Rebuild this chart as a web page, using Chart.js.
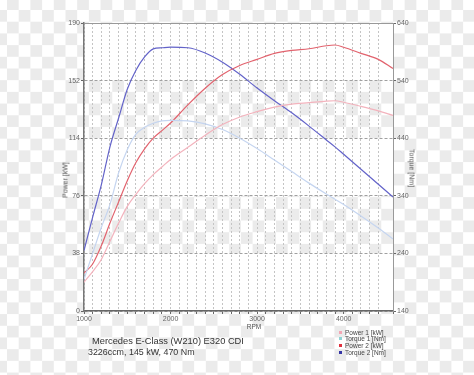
<!DOCTYPE html>
<html><head><meta charset="utf-8">
<script src="https://cdn.jsdelivr.net/npm/chart.js@4.4.1/dist/chart.umd.min.js"></script>
<style>
html,body{margin:0;padding:0;}
body{width:474px;height:375px;position:relative;overflow:hidden;background-color:#fff;
 background-image:conic-gradient(#ebebeb 25%, #fff 0 50%, #ebebeb 0 75%, #fff 0);
 background-size:23.4px 23.4px;background-position:7px 10px;
 font-family:"Liberation Sans",Arial,sans-serif;}
#wrap{position:absolute;left:0;top:0;width:474px;height:375px;}
.t{position:absolute;color:#555;white-space:nowrap;line-height:1;}
.rot{transform:translate(-50%,-50%) rotate(-90deg);}
.rot2{transform:translate(-50%,-50%) rotate(90deg);}
.cap{position:absolute;color:#333;white-space:nowrap;line-height:1;}
.lg{position:absolute;left:339px;font-size:6.5px;color:#444;white-space:nowrap;line-height:1;}
.lg i{display:inline-block;width:3px;height:3px;margin-right:3px;vertical-align:1px;}
</style></head>
<body>
<div id="wrap"><canvas id="c" width="474" height="375"></canvas></div>
<div class="t rot" style="left:65px;top:180px;font-size:7px;">Power [kW]</div>
<div class="t rot2" style="left:412px;top:168px;font-size:7px;">Torque [Nm]</div>
<div class="t" style="left:254px;top:327px;transform:translate(-50%,-50%);font-size:6.5px;">RPM</div>
<div class="cap" style="left:92px;top:336.5px;font-size:9.3px;">Mercedes E-Class (W210) E320 CDI</div>
<div class="cap" style="left:88px;top:347.5px;font-size:8.9px;">3226ccm, 145 kW, 470 Nm</div>
<div id="legend"></div>
<script>
const rpm     = [1000,1100,1200,1300,1400,1500,1600,1700,1800,1900,2000,2200,2400,2600,2800,3000,3200,3400,3600,3800,3900,4000,4200,4400,4570];
const power1  = [19,26,34,46,58,69,77,84,90,95,100,108,116,123,128,131.5,134.5,136.5,137.5,138.5,138.7,137.7,135,132,129];
const torque1 = [195,240,285,325,380,420,447,459,466,470,471,470,465,455,440,422,402,382,362,343,334,325,305,284,265];
const power2  = [25,31,43,58,72,86,98,107,114,119,124,136,147,156,162,166,170,172,173,175,175.5,174,170,166,160];
const torque2 = [245,303,359,425,475,525,558,581,595,597,598,597,588,572,551,527,505,484,461,437,425,412,386,360,338];
const powerTicks  = [0,38,76,114,152,190];
const torqueTicks = [140,240,340,440,540,640];
const rpmLabels   = [1000,2000,3000,4000];
const seriesNames = ['Power 1 [kW]','Torque 1 [Nm]','Power 2 [kW]','Torque 2 [Nm]'];

const lineColors   = ['#f3b3bd','#c5d5f0','#e2636e','#6363c9'];
const legendColors = ['#f4a6b4','#8fd3d3','#e0303e','#3535a5'];

const lg = document.getElementById('legend');
seriesNames.forEach((n,i)=>{
  const d=document.createElement('div'); d.className='lg';
  d.style.top=(329.5+i*6.7)+'px';
  d.innerHTML='<i style="background:'+legendColors[i]+'"></i>'+n;
  lg.appendChild(d);
});

const pts = arr => rpm.map((x,i)=>({x:x,y:arr[i]}));
const tickFont = {family:'"Liberation Sans", Arial, sans-serif', size:7};

const bands = {
  id:'bands',
  beforeDraw(chart){
    const {ctx, chartArea:a, scales:{y}} = chart;
    ctx.save(); ctx.fillStyle='#fff';
    for(let i=0;i<powerTicks.length-1;i+=2){
      const t=y.getPixelForValue(powerTicks[i+1]), b=y.getPixelForValue(powerTicks[i]);
      ctx.fillRect(a.left,t,a.right-a.left,b-t);
    }
    ctx.restore();
  },
  afterDraw(chart){
    const {ctx, chartArea:a} = chart;
    ctx.save(); ctx.strokeStyle='#999'; ctx.lineWidth=1;
    ctx.beginPath(); ctx.moveTo(a.left,a.top+0.5); ctx.lineTo(a.right,a.top+0.5); ctx.stroke();
    ctx.restore();
  }
};

new Chart(document.getElementById('c'), {
  type:'line',
  data:{datasets:[
    {label:seriesNames[0], data:pts(power1), yAxisID:'y'},
    {label:seriesNames[1], data:pts(torque1), yAxisID:'y2'},
    {label:seriesNames[2], data:pts(power2), yAxisID:'y'},
    {label:seriesNames[3], data:pts(torque2), yAxisID:'y2'}
  ].map((d,i)=>Object.assign(d,{borderColor:lineColors[i],borderWidth:1.2,pointRadius:0,fill:false,cubicInterpolationMode:'monotone'}))},
  options:{
    responsive:false, animation:false, events:[],
    layout:{padding:{top:23,left:0,right:0,bottom:0}},
    plugins:{legend:{display:false},tooltip:{enabled:false}},
    scales:{
      x:{type:'linear',min:1000,max:4570,
        ticks:{stepSize:100,autoSkip:false,maxRotation:0,padding:1,color:'#666',font:tickFont,
          callback:v=>rpmLabels.includes(v)?String(v):''},
        grid:{color:'#c4c4c4',tickLength:3,tickColor:'#666'},
        border:{display:true,color:'#666',width:1.5,dash:[2,2]},
        afterFit:s=>{s.height=64;}},
      y:{position:'left',min:0,max:190,
        ticks:{stepSize:38,padding:1,color:'#666',font:tickFont},
        grid:{color:'#a0a0a0',tickLength:3,tickColor:'#666'},
        border:{display:true,color:'#777',width:1.5,dash:[3,2]},
        afterFit:s=>{s.width=84;}},
      y2:{position:'right',min:140,max:640,
        ticks:{stepSize:100,padding:1,color:'#666',font:tickFont},
        grid:{drawOnChartArea:false,tickLength:3,tickColor:'#666'},
        border:{display:true,color:'#999',width:1},
        afterFit:s=>{s.width=81;}}
    }
  },
  plugins:[bands]
});
</script>
</body></html>
